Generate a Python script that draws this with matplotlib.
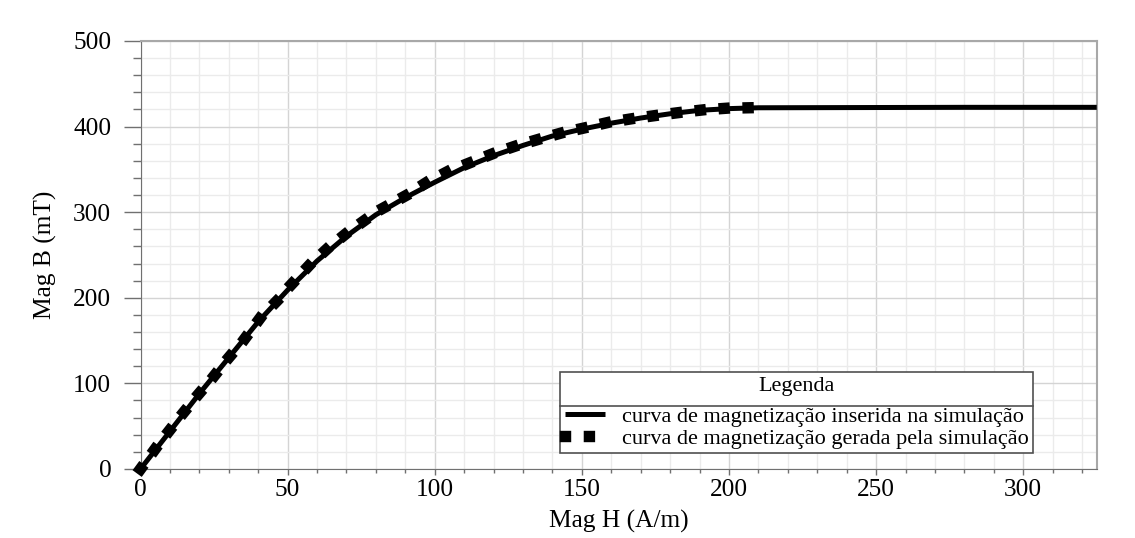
import numpy as np
import matplotlib.pyplot as plt
from matplotlib.lines import Line2D
from matplotlib.ticker import MultipleLocator

# curva inserida na simulacao (H em A/m, B em mT)
h_in = [0, 10, 20, 30, 40, 50, 60, 70, 80, 90, 100, 110, 120, 130, 140,
        150, 160, 170, 180, 190, 200, 210, 280, 325]
b_in = [0, 44, 88, 130, 172, 209, 243, 272, 297, 317, 335, 352, 366, 378, 389,
        397, 404, 410, 415, 419, 421, 422, 422.5, 422.5]

# curva gerada pela simulacao
h_sim = [0, 4.9, 9.7, 14.6, 19.7, 25.0, 30.1, 35.4, 40.6, 46.1, 51.4, 57.1, 63.0,
         69.6, 76.0, 82.6, 90.0, 96.8, 103.9, 111.5, 119.2, 126.8, 134.5, 142.3,
         150.3, 158.6, 166.5, 174.6, 182.6, 190.9, 199.0, 207.0]
b_sim = [0, 23, 44.4, 65.8, 87.3, 108.6, 130.5, 152, 176, 195.4, 216, 237, 255.8,
         274.2, 290, 305, 319, 333.8, 346.6, 357.1, 367.6, 376.5, 384.3, 391.8,
         398, 404.6, 408.9, 412.7, 416.2, 419.4, 421.4, 422]

lbl_in = 'curva de magnetização inserida na simulação'
lbl_sim = 'curva de magnetização gerada pela simulação'

plt.rcParams['font.family'] = ['Liberation Serif', 'DejaVu Serif']
fs = 18.3

fig = plt.figure(figsize=(11.35, 5.38), dpi=100)
ax = fig.add_axes([0.1238, 0.1283, 0.8425, 0.7955])
ax.set_xlim(0, 325)
ax.set_ylim(0, 500)

# espacamento dos pontos quadrados: um ponto em cada amostra da simulacao
lw_sim = 8.2
pts = ax.transData.transform(np.column_stack([h_sim, b_sim]))
arc = np.sum(np.hypot(*np.diff(pts, axis=0).T))
period = 0.998 * arc / (len(h_sim) - 1) / (lw_sim * fig.dpi / 72)

ax.plot(h_in, b_in, color='black', lw=3.6, solid_capstyle='butt', label=lbl_in, zorder=3)
ax.plot(h_sim, b_sim, color='black', lw=lw_sim, linestyle=(0, (0.001, period - 0.001)),
        dash_capstyle='projecting', label=lbl_sim, clip_on=False, zorder=4)

ax.xaxis.set_major_locator(MultipleLocator(50))
ax.xaxis.set_minor_locator(MultipleLocator(10))
ax.yaxis.set_major_locator(MultipleLocator(100))
ax.yaxis.set_minor_locator(MultipleLocator(20))

ax.grid(which='major', color='#d4d4d4', lw=1.0)
ax.grid(which='minor', color='#ebebeb', lw=1.0)
ax.set_axisbelow(True)

for s in ['left', 'bottom']:
    ax.spines[s].set_color('#707070')
for s in ['top', 'right']:
    ax.spines[s].set_color('#a8a8a8')
    ax.spines[s].set_linewidth(1.5)

ax.tick_params(axis='y', which='major', length=12, width=1, color='#707070', pad=9, labelsize=fs)
ax.tick_params(axis='y', which='minor', length=6, width=1, color='#707070')
ax.tick_params(axis='x', which='major', length=4.5, width=1, color='#707070', pad=3, labelsize=fs)
ax.tick_params(axis='x', which='minor', length=3, width=1, color='#707070')

ax.set_xlabel('Mag H (A/m)', fontsize=fs, labelpad=6)
ax.set_ylabel('Mag B (mT)', fontsize=fs, labelpad=12)

leg = ax.legend(title='Legenda', loc='lower right', bbox_to_anchor=(0.9334, 0.0374),
                borderaxespad=0, fontsize=16, title_fontsize=16, fancybox=False,
                framealpha=1, edgecolor='#505050', labelspacing=0.05,
                handlelength=1.8, handletextpad=0.77, borderpad=0.2)
leg.get_frame().set_linewidth(1.2)
leg._legend_box.sep = 7.6

# linha separadora abaixo do titulo da legenda
fig.canvas.draw()
r = fig.canvas.get_renderer()
lb = leg.get_window_extent(r)
eb = leg.get_texts()[0].get_window_extent(r)
inv = fig.transFigure.inverted()
y = eb.y1 + 2
(x0, y0), (x1, _) = inv.transform([(lb.x0, y), (lb.x1, y)])
fig.add_artist(Line2D([x0, x1], [y0, y0], color='#505050', lw=1.2, zorder=10))

fig.savefig('out.png', dpi=100)
